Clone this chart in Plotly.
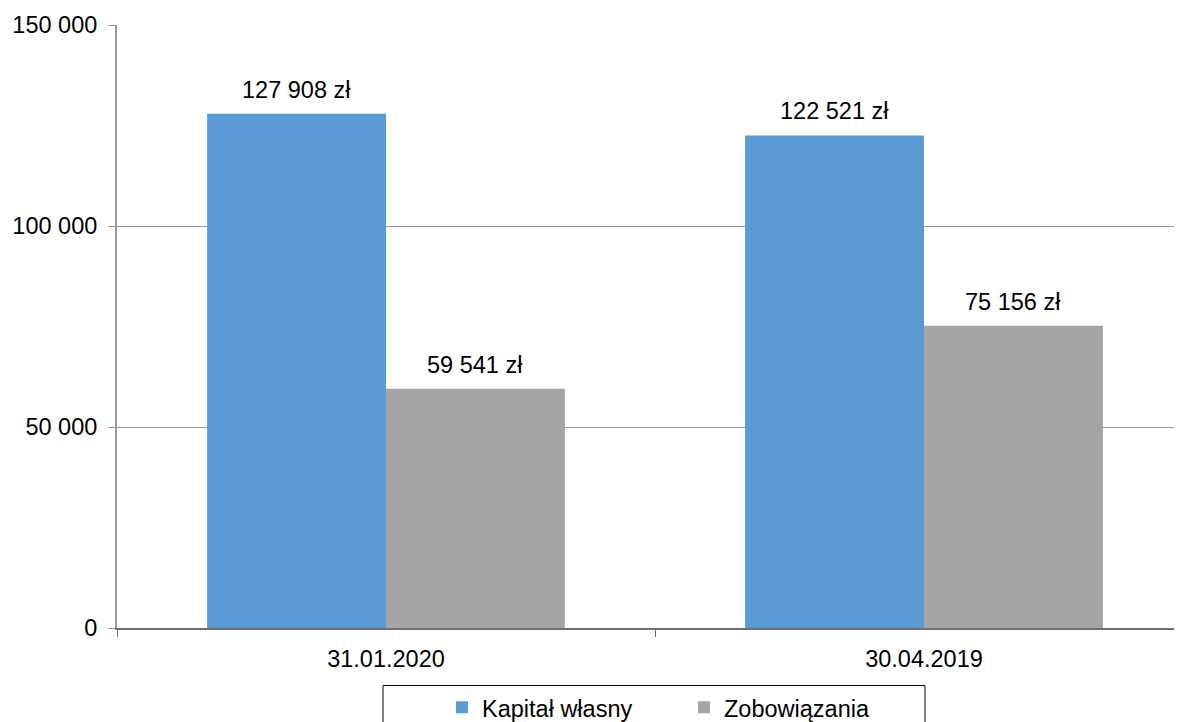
import plotly.graph_objects as go

categories = ["31.01.2020", "30.04.2019"]
series_names = ["Kapitał własny", "Zobowiązania"]
kapital = [127908, 122521]
zobowiazania = [59541, 75156]
colors = ["#5B9BD5", "#A5A5A5"]
y_ticks = [0, 50000, 100000, 150000]


def fmt(v):
    return f"{v:,}".replace(",", " ") + " zł"


FONT = "Liberation Sans, Arial"
FS = 23.5
BARGAP = 0.335
PLOT_W = 1073  # px width of plot area
PLOT_H = 608
CAT_PX = 538   # px per category
bar_px = (1 - BARGAP) / 2 * CAT_PX

fig = go.Figure()
annotations = []
for i, (name, vals, col) in enumerate(zip(series_names, [kapital, zobowiazania], colors)):
    fig.add_trace(go.Bar(
        x=categories, y=vals, name=name,
        marker=dict(color=col, line=dict(width=0)),
    ))
    for c, v in zip(categories, vals):
        annotations.append(dict(
            x=c, y=v, xref="x", yref="y", text=fmt(v), showarrow=False,
            xshift=(i - 0.5) * bar_px, yanchor="bottom", yshift=9,
            font=dict(family=FONT, size=FS, color="#000000"),
        ))

fig.update_layout(
    width=1182, height=722,
    margin=dict(l=109, r=0, t=17, b=722 - 17 - PLOT_H),
    paper_bgcolor="white", plot_bgcolor="white",
    barmode="group", bargap=BARGAP, bargroupgap=0,
    separators=", ",
    font=dict(family=FONT, size=FS, color="#000000"),
    xaxis=dict(
        range=[-0.5, -0.5 + PLOT_W / CAT_PX], showline=True, linecolor="#6E6E6E", linewidth=2,
        ticks="outside", tickson="boundaries", ticklen=7, tickcolor="#6E6E6E", tickwidth=1,
        tickfont=dict(size=FS), showgrid=False, ticklabelstandoff=9,
    ),
    yaxis=dict(
        range=[0, 150000], tickvals=y_ticks, tickformat=",d",
        showline=True, linecolor="#999999", linewidth=2,
        ticks="outside", ticklen=7, tickcolor="#999999", tickwidth=1,
        gridcolor="#999999", gridwidth=1, zeroline=False,
        tickfont=dict(size=FS), ticklabelstandoff=6,
    ),
    showlegend=True,
    legend=dict(
        orientation="h", x=(442 - 117) / PLOT_W, xanchor="left",
        y=-(688 - 633) / PLOT_H - 0.005, yanchor="top",
        font=dict(size=FS), borderwidth=0, bgcolor="rgba(0,0,0,0)",
        entrywidth=197, entrywidthmode="pixels", traceorder="normal",
    ),
    annotations=annotations,
    shapes=[dict(
        type="rect", xref="paper", yref="paper",
        x0=(383 - 117) / PLOT_W, x1=(925 - 117) / PLOT_W,
        y0=-0.2, y1=-(688 - 630) / PLOT_H,
        line=dict(color="#000000", width=1), fillcolor="rgba(0,0,0,0)",
    )],
)

fig.write_html("out.html")
